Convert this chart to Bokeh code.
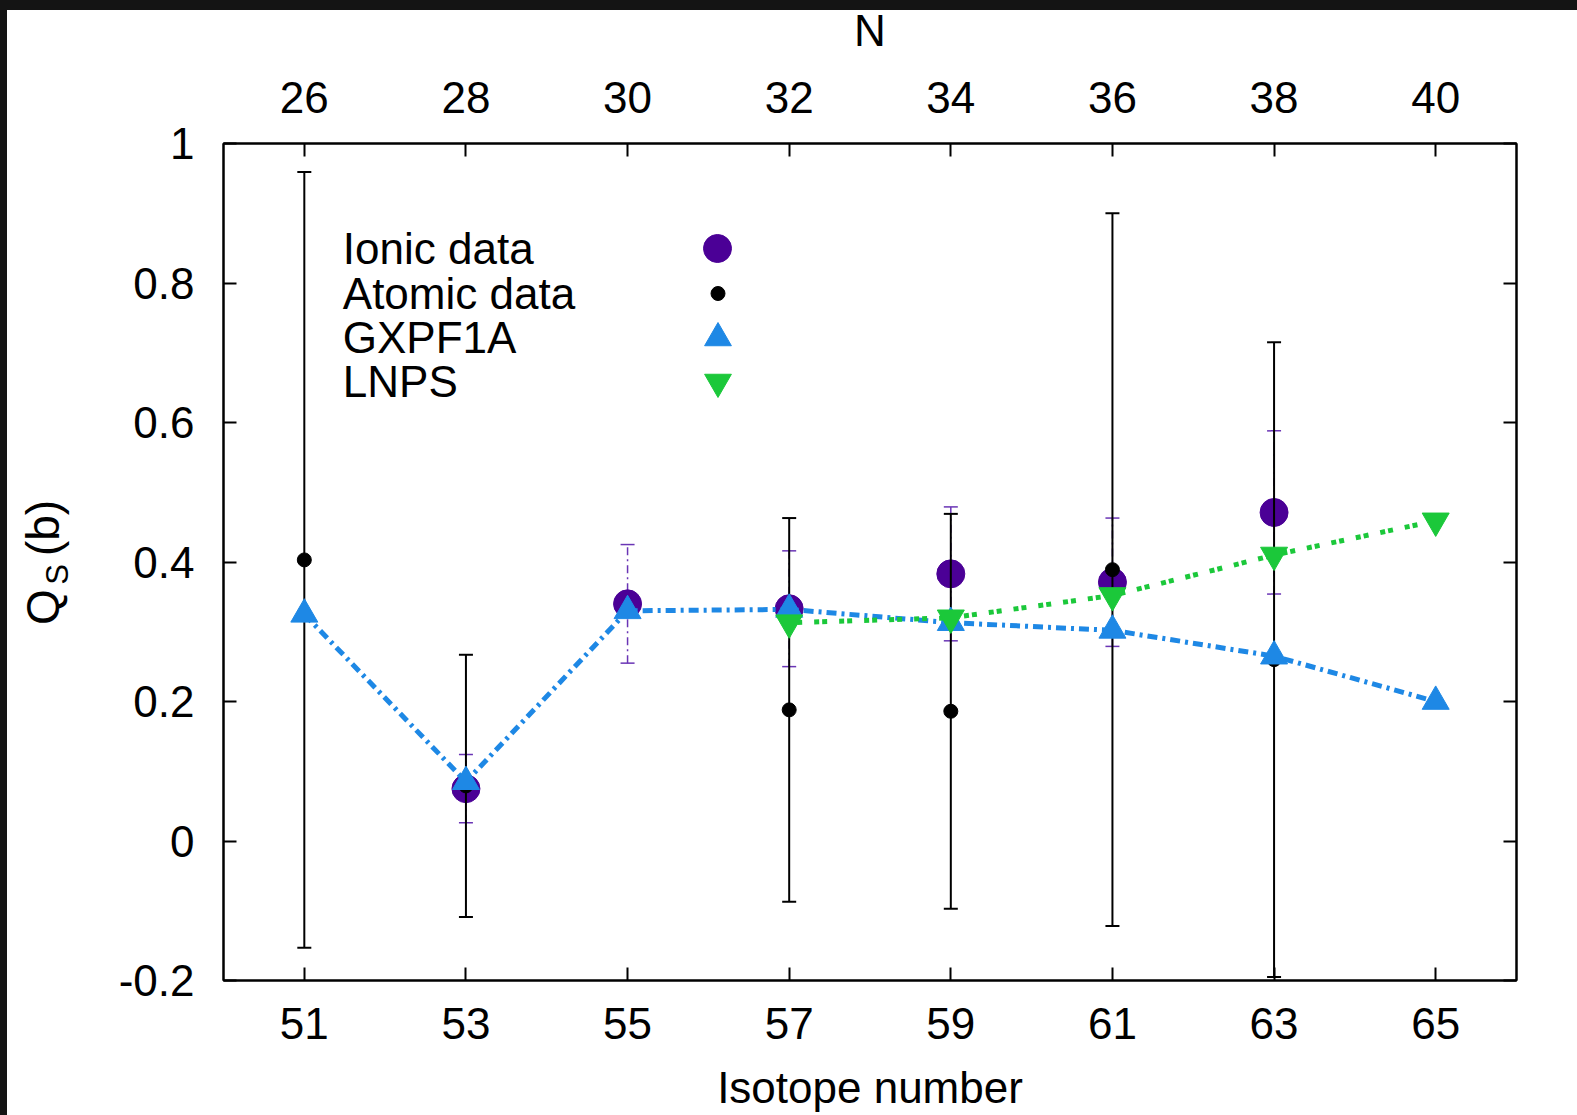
import numpy as np
from bokeh.plotting import figure
from bokeh.models import (Range1d, LinearAxis, FixedTicker, PrintfTickFormatter,
                          CustomJSTickFormatter, ColumnDataSource, Legend, LegendItem,
                          Label, Spacer)
from bokeh.layouts import column, row
from bokeh.embed import file_html
from bokeh.resources import INLINE

# ---------------- data ----------------
isotope_ticks = [51, 53, 55, 57, 59, 61, 63, 65]
neutron_labels = ["26", "28", "30", "32", "34", "36", "38", "40"]
qs_ticks = [-0.2, 0, 0.2, 0.4, 0.6, 0.8, 1.0]

ionic_A = [53, 55, 57, 59, 61, 63]
ionic_Q = [0.075, 0.340, 0.333, 0.383, 0.371, 0.471]
ionic_dQ = [0.049, 0.085, 0.083, 0.096, 0.092, 0.117]

atomic_A = [51, 53, 57, 59, 61, 63]
atomic_Q = [0.403, 0.079, 0.188, 0.186, 0.389, 0.260]
atomic_dQ = [0.556, 0.188, 0.275, 0.283, 0.511, 0.455]

gxpf1a_A = [51, 53, 55, 57, 59, 61, 63, 65]
gxpf1a_Q = [0.325, 0.085, 0.330, 0.332, 0.313, 0.302, 0.265, 0.200]

lnps_A = [57, 59, 61, 63, 65]
lnps_Q = [0.313, 0.320, 0.352, 0.410, 0.459]

legend_names = ["Ionic data", "Atomic data", "GXPF1A", "LNPS"]

# ---------------- style ----------------
FONT = "Liberation Sans"
TICK_SIZE = "44px"
TITLE_SIZE = "44px"
C_ION = "#4B0096"
C_ION_ERR = "#6A35B5"
C_GX = "#1E88E5"
C_LN = "#1BC83A"
BAND = "#141414"

STRIP_W = 80          # strip that carries the y-axis title
P_W, P_H = 1490, 1115
B_TOP, B_BOTTOM, B_LEFT, B_RIGHT = 143, 135, 136, 61

p = figure(width=P_W, height=P_H,
           x_range=Range1d(50, 66), y_range=Range1d(-0.2, 1.0),
           output_backend="svg", toolbar_location=None,
           min_border_left=B_LEFT, min_border_right=B_RIGHT,
           min_border_top=B_TOP, min_border_bottom=B_BOTTOM,
           background_fill_color="white", border_fill_alpha=0,
           outline_line_color="black", outline_line_width=2)
p.xgrid.visible = False
p.ygrid.visible = False


def style_axis(ax):
    ax.axis_line_color = "black"
    ax.axis_line_width = 2
    ax.major_tick_in = 13
    ax.major_tick_out = 0
    ax.major_tick_line_width = 2
    ax.major_tick_line_color = "black"
    ax.minor_tick_line_color = None
    ax.major_label_text_font = FONT
    ax.major_label_text_font_size = TICK_SIZE
    ax.major_label_text_color = "black"
    ax.axis_label_text_font = FONT
    ax.axis_label_text_font_size = TITLE_SIZE
    ax.axis_label_text_font_style = "normal"
    ax.axis_label_text_color = "black"


xb = p.xaxis[0]
style_axis(xb)
xb.ticker = FixedTicker(ticks=isotope_ticks)
xb.axis_label = "Isotope number"
xb.major_label_standoff = 27
xb.axis_label_standoff = 21

yl = p.yaxis[0]
style_axis(yl)
yl.ticker = FixedTicker(ticks=qs_ticks)
yl.formatter = PrintfTickFormatter(format="%g")
yl.major_label_standoff = 29

xt = LinearAxis(ticker=FixedTicker(ticks=isotope_ticks),
                major_label_overrides={a: n for a, n in zip(isotope_ticks, neutron_labels)},
                axis_label="N")
style_axis(xt)
xt.major_label_standoff = 31
xt.axis_label_standoff = 24
p.add_layout(xt, "above")

yr = LinearAxis(ticker=FixedTicker(ticks=qs_ticks),
                formatter=CustomJSTickFormatter(code="return ''"))
style_axis(yr)
yr.major_label_standoff = 0
yr.major_label_text_font_size = "1px"
p.add_layout(yr, "right")

# ---------------- data glyphs ----------------
ion = ColumnDataSource(dict(A=ionic_A, Q=ionic_Q,
                            lo=np.array(ionic_Q) - np.array(ionic_dQ),
                            hi=np.array(ionic_Q) + np.array(ionic_dQ)))
ato = ColumnDataSource(dict(A=atomic_A, Q=atomic_Q,
                            lo=np.array(atomic_Q) - np.array(atomic_dQ),
                            hi=np.array(atomic_Q) + np.array(atomic_dQ)))
gx = ColumnDataSource(dict(A=gxpf1a_A, Q=gxpf1a_Q))
ln = ColumnDataSource(dict(A=lnps_A, Q=lnps_Q))

# ionic error bars
p.segment(x0="A", y0="lo", x1="A", y1="hi", source=ion,
          line_color=C_ION_ERR, line_width=1.5, line_dash="8 4 2 4")
for end in ("lo", "hi"):
    p.scatter(x="A", y=end, source=ion, marker="dash", size=14,
              line_color=C_ION_ERR, line_width=1.5)
r_ion = p.scatter(x="A", y="Q", source=ion, marker="circle", size=28,
                  fill_color=C_ION, line_color=C_ION)

# atomic error bars
p.segment(x0="A", y0="lo", x1="A", y1="hi", source=ato,
          line_color="black", line_width=2)
for end in ("lo", "hi"):
    p.scatter(x="A", y=end, source=ato, marker="dash", size=14,
              line_color="black", line_width=2)
r_ato = p.scatter(x="A", y="Q", source=ato, marker="circle", size=14,
                  fill_color="black", line_color="black")

# GXPF1A
p.line(x="A", y="Q", source=gx, line_color=C_GX, line_width=5, line_dash="10 5 3 5")
r_gx = p.scatter(x="A", y="Q", source=gx, marker="triangle", size=27,
                 fill_color=C_GX, line_color=C_GX)

# LNPS
p.line(x="A", y="Q", source=ln, line_color=C_LN, line_width=5, line_dash="5 3 5 12")
r_ln = p.scatter(x="A", y="Q", source=ln, marker="inverted_triangle", size=27,
                 fill_color=C_LN, line_color=C_LN)

# ---------------- key (text left, symbol right, gnuplot style) ----------------
leg_renderers = [r_ion, r_ato, r_gx, r_ln]
glyph_boxes = [(70, 70), (35, 56), (67, 67), (67, 67)]
frame_left, frame_bottom = float(B_LEFT), float(P_H - B_BOTTOM)   # frame corner in figure px
row_y0, row_dy = 248.4, 44.3                  # row centres (figure px from top)
sym_x, text_x = 630.3, 255.3                  # symbol centre / text start (figure px)
for i, (name, rend, (gw, gh)) in enumerate(zip(legend_names, leg_renderers, glyph_boxes)):
    yc = row_y0 + i * row_dy
    p.add_layout(Legend(items=[LegendItem(label=" ", renderers=[rend])],
                        location=(sym_x - gw / 2 - frame_left, frame_bottom - (yc + gh / 2)),
                        glyph_width=gw, glyph_height=gh, label_standoff=0,
                        padding=0, margin=0, spacing=0, label_width=0, label_height=0,
                        label_text_font_size="2px",
                        border_line_color=None, background_fill_alpha=0), "center")
    p.add_layout(Label(x=text_x - frame_left, y=frame_bottom - yc,
                       x_units="screen", y_units="screen", text=name,
                       text_align="left", text_baseline="middle",
                       text_font=FONT, text_font_size=TITLE_SIZE, text_color="black"))

# ---------------- y-axis title  Q_S (b) in its own strip ----------------
strip = figure(width=STRIP_W, height=P_H, x_range=Range1d(0, STRIP_W), y_range=Range1d(0, P_H),
               output_backend="svg", toolbar_location=None,
               x_axis_location=None, y_axis_location=None,
               min_border_left=0, min_border_right=0,
               min_border_top=B_TOP, min_border_bottom=B_BOTTOM,
               outline_line_color=None,
               background_fill_color="white", border_fill_alpha=0)
strip.grid.visible = False
# (text, font size, centre x from strip left, centre y from strip top)
ytitle = [("Q", "46px", 35.5, 606.5), ("S", "31px", 50.3, 574.0), ("(b)", "46px", 35.5, 527.5)]
for txt, fs, xc, ycen in ytitle:
    strip.add_layout(Label(x=xc, y=(P_H - B_BOTTOM) - ycen, x_units="screen", y_units="screen",
                           text=txt, angle=np.pi / 2, text_align="center", text_baseline="middle",
                           text_font=FONT, text_font_size=fs, text_color="black"))

top_band = Spacer(width=1577, height=10, styles={"background-color": BAND})
left_band = Spacer(width=7, height=P_H, styles={"background-color": BAND})
body = row(left_band, strip, p, spacing=0)
body.margin = (-10, 0, 0, 0)
layout = column(top_band, body, spacing=0)

open("out.html", "w").write(file_html(layout, INLINE))
